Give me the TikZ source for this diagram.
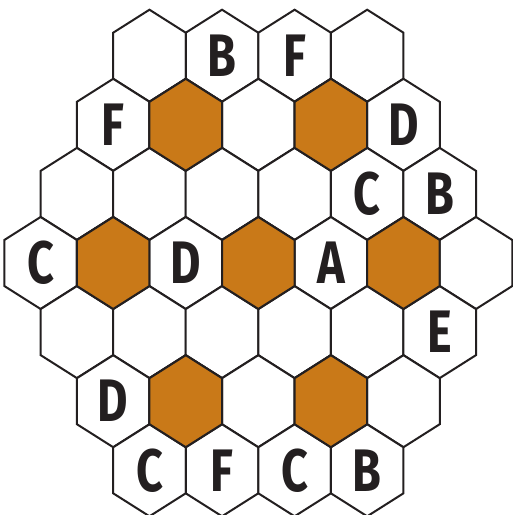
\documentclass[tikz,border=0pt]{standalone}
\usepackage{fontspec}
\newfontfamily\hexfont[FakeStretch=0.78]{Fira Sans}
\definecolor{hexorange}{RGB}{201,121,24}
\definecolor{hexline}{RGB}{35,31,32}

\begin{document}
\begin{tikzpicture}[
    x=1pt,y=-1pt,
    cell/.style={draw=hexline,line width=2pt,line join=miter,fill=white},
    shaded/.style={cell,fill=hexorange},
    letter/.style={font=\hexfont\bfseries\fontsize{60}{60}\selectfont,text=hexline,inner sep=0pt}
]
    \useasboundingbox (0,0) rectangle (513,515);

    % the grid: row / number of cells
    \foreach \r/\n in {0/4,1/5,2/6,3/7,4/6,5/5,6/4}{
        \pgfmathsetmacro{\cy}{55.7+69.1*\r}
        \pgfmathsetmacro{\xs}{40.6+36.29*abs(\r-3)}
        \foreach \c in {1,...,\n}{
            \pgfmathsetmacro{\cx}{\xs+72.57*(\c-1)}
            \coordinate (h\r\c) at (\cx,\cy);
            \draw[cell] (h\r\c) ++(0,-46) -- ++(36.29,23) -- ++(0,46) -- ++(-36.29,23) -- ++(-36.29,-23) -- ++(0,-46) -- cycle;
        }
    }

    % orange cells
    \foreach \r/\c in {1/2,1/4,3/2,3/4,3/6,5/2,5/4}
        \draw[shaded] (h\r\c) ++(0,-46) -- ++(36.29,23) -- ++(0,46) -- ++(-36.29,23) -- ++(-36.29,-23) -- ++(0,-46) -- cycle;

    % letters
    \foreach \r/\c/\t in {0/2/B,0/3/F,1/1/F,1/5/D,2/5/C,2/6/B,3/1/C,3/3/D,3/5/A,4/6/E,5/1/D,6/1/C,6/2/F,6/3/C,6/4/B}
        \node[letter] (l\r\c) at (h\r\c) {\t};
\end{tikzpicture}
\end{document}
